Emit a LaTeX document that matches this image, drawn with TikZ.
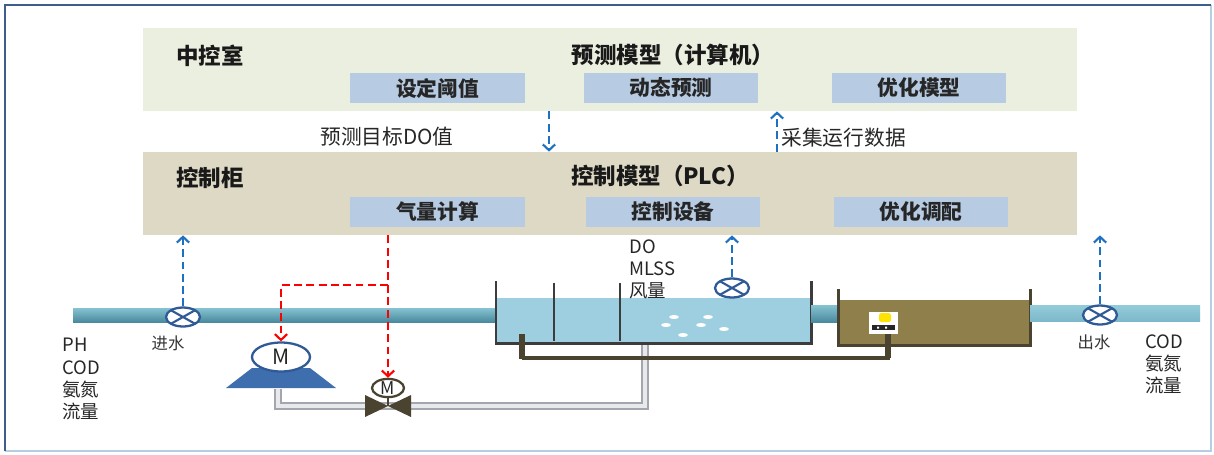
\documentclass[tikz,border=0pt]{standalone}
\usepackage{fontspec}
\setmainfont{Noto Sans CJK SC}
\usetikzlibrary{arrows.meta,calc,shapes.geometric}

\definecolor{roomfill}{HTML}{EBEFDF}
\definecolor{cabfill}{HTML}{DDD9C4}
\definecolor{boxfill}{HTML}{B7CBE3}
\definecolor{sigblue}{HTML}{1E70C0}
\definecolor{sensorline}{HTML}{2F5A96}
\definecolor{pipeA}{HTML}{86C3D2}
\definecolor{pipeB}{HTML}{4A8A9E}
\definecolor{pipeC}{HTML}{93CBDA}
\definecolor{pipeD}{HTML}{7DB9CA}
\definecolor{water}{HTML}{9DCFE0}
\definecolor{wall}{HTML}{3C3C3C}
\definecolor{sludge}{HTML}{8E7F4B}
\definecolor{olive}{HTML}{4A4330}
\definecolor{pumpblue}{HTML}{3F6EAE}
\definecolor{airpipe}{HTML}{A3A6AE}
\definecolor{frameA}{HTML}{3E5F8E}
\definecolor{frameB}{HTML}{B5CEE2}

\tikzset{
  band/.style={fill=#1, draw=none, minimum width=18.68cm, minimum height=1.66cm, inner sep=0},
  task/.style={fill=boxfill, minimum width=3.5cm, minimum height=0.6cm, inner sep=0,
    font=\fontsize{11.8}{12}\selectfont\bfseries, text=black!85},
  title/.style={font=\fontsize{12.8}{13}\selectfont\bfseries, text=black!90, inner sep=0},
  flowlabel/.style={font=\fontsize{11.8}{12}\selectfont, text=black!85, inner sep=0},
  meas/.style={font=\fontsize{10.5}{12.6}\selectfont, text=black!85, inner sep=0, align=left},
  pointlabel/.style={font=\fontsize{9.3}{10}\selectfont, text=black!80, inner sep=0},
  barb/.style={-{Straight Barb[length=3.3pt,width=7pt,line width=1.2pt]}},
  sig/.style={sigblue, line width=1.25pt, dash pattern=on 4.5pt off 2.5pt, barb},
  ctl/.style={red, line width=1.3pt, dash pattern=on 4.5pt off 2.5pt},
  sensor/.style={ellipse, draw=sensorline, line width=1.3pt, fill=white,
    minimum width=0.68cm, minimum height=0.38cm, inner sep=0,
    path picture={\draw[sensorline, line width=1.2pt]
      (path picture bounding box.north west) -- (path picture bounding box.south east)
      (path picture bounding box.south west) -- (path picture bounding box.north east);}},
  motor/.style={ellipse, draw=sensorline, line width=1.3pt, fill=white,
    minimum width=1.16cm, minimum height=0.58cm, inner sep=0,
    font=\fontsize{12}{12}\selectfont, text=black!85},
  vmotor/.style={ellipse, draw=olive, line width=1.3pt, fill=white,
    minimum width=0.64cm, minimum height=0.36cm, inner sep=0,
    font=\fontsize{10}{10}\selectfont, text=black!85},
}

\begin{document}
\begin{tikzpicture}[x=0.02cm,y=-0.02cm]
\useasboundingbox (0,0) rectangle (1214,454);

% outer frame
\draw[frameB, line width=1.5pt] (1211,5) -- (1211,451) -- (5,451);
\draw[frameA, line width=1.5pt] (5,451) -- (5,5) -- (1211,5);

% control levels
\node[band=roomfill] (room) at (610,69.5) {};
\node[band=cabfill] (cab) at (610,193.5) {};
\node[title] (roomtitle) at (210,56) {中控室};
\node[title] (predtitle) at (673,55) {预测模型（计算机）};
\node[title] (cabtitle) at (210,178) {控制柜};
\node[title] (plctitle) at (660,176) {控制模型（PLC）};

\node[task] (thresh) at (437.5,88) {设定阈值};
\node[task] (dynpred) at (671,88) {动态预测};
\node[task] (optmodel) at (919,88) {优化模型};
\node[task] (aircalc) at (437.5,212) {气量计算};
\node[task] (devctl) at (673,212) {控制设备};
\node[task] (optdisp) at (921,212) {优化调配};

% data exchange between the levels
\coordinate (dnx) at (549,0);
\coordinate (upx) at (777,0);
\draw[sig] (room.south -| dnx) -- (cab.north -| dnx);
\draw[sig] (cab.north -| upx) -- (room.south -| upx);
\node[flowlabel] (tgtdo) at (387,137) {预测目标DO值};
\node[flowlabel, anchor=west] (collect) at (781,138) {采集运行数据};

% air supply pipe
\draw[airpipe, double=white!75!airpipe, double distance=1.8pt, line width=1.4pt]
  (278,389) -- (278,406) -- (645,406) -- (645,344);

% influent pipe
\shade[top color=pipeA, bottom color=pipeB] (73,308) rectangle (497,322);

% aeration tank
\fill[water] (496,298) rectangle (811,343);
\foreach \bx/\by in {674/317, 708/317, 666/325, 701/325, 724/329, 683/335}
  \fill[white] (\bx,\by) ellipse [x radius=5, y radius=2];
\draw[wall, line width=1.7pt] (496,281) -- (496,343) -- (811,343) -- (811,281);
\draw[wall, line width=1.4pt] (554,283) -- (554,341) (620,283) -- (620,341);

% pipe between the tanks
\shade[top color=pipeA, bottom color=pipeB] (811,305) rectangle (838,322);

% clarifier
\fill[sludge] (838,300) rectangle (1030,345);
\draw[olive, line width=1.7pt] (838,289) -- (838,345) -- (1030,345) -- (1030,289);
\node[fill=white, minimum width=0.58cm, minimum height=0.44cm, inner sep=0] (probe) at (883.5,322.5) {};
\fill[yellow!85!orange, rounded corners=1pt] (879,313) rectangle (891,322);
\fill[black!85] (872,325) rectangle (895,330);
\fill[white] (877,326.5) rectangle (879,328.5) (885,326.5) rectangle (887,328.5);

% effluent pipe
\shade[top color=pipeC, bottom color=pipeD] (1030,305) rectangle (1200,321);

% sludge return line
\draw[olive, line width=1.9pt] (522,358) -- (888,358) -- (probe.south -| 888,0);
\draw[olive, line width=3pt] (522,334) -- (522,359);
\draw[olive, line width=3pt] (888,358) -- (probe.south -| 888,0);

% blower
\fill[pumpblue] (226,388) -- (252,368) -- (310,368) -- (336,388) -- cycle;
\node[motor] (blower) at (281,357) {M};

% motorised valve
\fill[olive] (365,395) -- (388,406) -- (365,417) -- cycle;
\fill[olive] (411,395) -- (388,406) -- (411,417) -- cycle;
\node[vmotor] (valve) at (388,388) {M};
\draw[olive, line width=1pt] (valve.south) -- (388,406);

% control commands from the cabinet
\coordinate (redx) at (388,0);
\coordinate (split) at (388,285);
\draw[ctl] (cab.south -| redx) -- (split);
\draw[ctl, barb] (split) -| (blower.north);
\draw[ctl, barb] (split) -- (valve.north);

% measurement points
\node[sensor] (inlet) at (183,317) {};
\node[pointlabel] (inletlbl) at (168,343) {进水};
\draw[sig] (inlet.north) -- (inlet.north |- cab.south);

\node[sensor] (tankdo) at (732,288) {};
\draw[sig] (tankdo.north) -- (tankdo.north |- cab.south);

\node[sensor] (outlet) at (1100,315) {};
\node[pointlabel] (outletlbl) at (1094,342) {出水};
\draw[sig] (outlet.north) -- (outlet.north |- cab.south);

\node[meas, anchor=north west] (inq) at (62,338) {PH\\COD\\氨氮\\流量};
\node[meas, anchor=north west] (tankq) at (629,239) {DO\\MLSS\\风量};
\node[meas, anchor=north west] (outq) at (1145,334) {COD\\氨氮\\流量};
\end{tikzpicture}
\end{document}
